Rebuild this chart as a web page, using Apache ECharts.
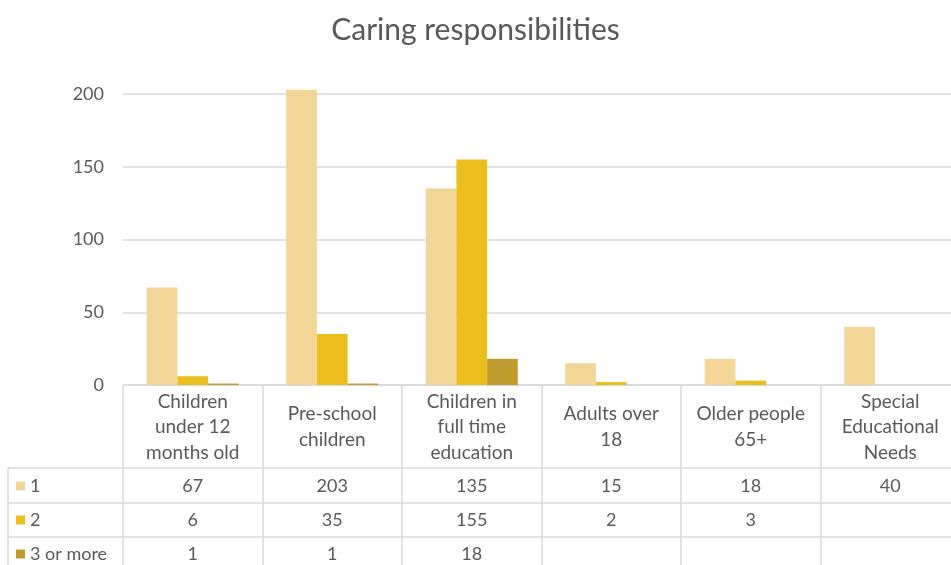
<!DOCTYPE html>
<html>
<head>
<meta charset="utf-8">
<script src="https://cdn.jsdelivr.net/npm/echarts@6/dist/echarts.min.js"></script>
<style>
  html, body { margin: 0; padding: 0; background: #ffffff; }
  #chart { width: 951px; height: 565px; }
</style>
</head>
<body>
<div id="chart"></div>
<script>
// Categories of caring responsibility (header row of the data table)
const categories = [
  'Children\nunder 12\nmonths old',
  'Pre-school\nchildren',
  'Children in\nfull time\neducation',
  'Adults over\n18',
  'Older people\n65+',
  'Special\nEducational\nNeeds'
];

// Number of people caring for 1, 2, or 3+ dependants in each category
const seriesNames = ['1', '2', '3 or more'];
const ones = [67, 203, 135, 15, 18, 40];
const twos = [6, 35, 155, 2, 3, null];
const threePlus = [1, 1, 18, null, null, null];

// Value axis ticks
const yTicks = { min: 0, max: 200, step: 50 };

const colors = ['#F2D698', '#EBBE1E', '#C09B2D'];
const rows = [ones, twos, threePlus];

const textColor = '#595959';
const lineColor = '#d9d9d9';
const font = 'Lato';

const chart = echarts.init(document.getElementById('chart'), null, { renderer: 'canvas' });

// Table geometry (pixels)
const axisY = 385;
const rowLines = [468, 503, 537];
const rowCenters = [486, 520, 554];
const tableLeft = 8;

// One hidden-line category axis per table row, whose labels are the row values
const valueAxes = rows.map((vals, r) => ({
  type: 'category',
  data: categories,
  position: 'bottom',
  offset: rowCenters[r] - axisY,
  axisLine: { show: false },
  axisTick: { show: false },
  splitLine: { show: false },
  axisLabel: {
    interval: 0,
    margin: 0,
    verticalAlign: 'middle',
    color: textColor,
    fontFamily: font,
    fontSize: 18,
    formatter: (v, i) => (vals[i] == null ? '' : String(vals[i]))
  }
}));

const graphics = [];
rowLines.forEach(y => {
  graphics.push({
    type: 'line',
    shape: { x1: tableLeft, y1: y, x2: 951, y2: y },
    style: { stroke: lineColor, lineWidth: 1.5 },
    silent: true
  });
});
graphics.push({
  type: 'line',
  shape: { x1: tableLeft, y1: rowLines[0], x2: tableLeft, y2: 565 },
  style: { stroke: lineColor, lineWidth: 1.5 },
  silent: true
});

const option = {
  animation: false,
  backgroundColor: '#ffffff',
  color: colors,
  title: {
    text: 'Caring responsibilities',
    left: 'center',
    top: 10,
    textStyle: { color: textColor, fontFamily: font, fontSize: 30, fontWeight: 'normal' }
  },
  legend: {
    data: seriesNames,
    orient: 'vertical',
    left: 16,
    top: 476,
    padding: 0,
    itemWidth: 9,
    itemHeight: 9,
    itemGap: 14,
    icon: 'rect',
    selectedMode: false,
    textStyle: { color: textColor, fontFamily: font, fontSize: 18, lineHeight: 20 }
  },
  // the plot runs slightly past the right edge of the canvas
  grid: {
    left: 123, width: 837, top: 94, bottom: 565 - axisY,
    containLabel: false, outerBoundsMode: 'none'
  },
  xAxis: [{
    type: 'category',
    data: categories,
    position: 'bottom',
    axisLine: { show: true, lineStyle: { color: lineColor, width: 1.5 } },
    axisTick: { show: true, interval: 0, length: 565 - axisY, lineStyle: { color: lineColor, width: 1.5 } },
    axisLabel: {
      interval: 0,
      margin: 42,
      verticalAlign: 'middle',
      color: textColor,
      fontFamily: font,
      fontSize: 19,
      lineHeight: 25.5
    }
  }].concat(valueAxes),
  yAxis: {
    type: 'value',
    min: yTicks.min,
    max: yTicks.max,
    interval: yTicks.step,
    axisLine: { show: false },
    axisTick: { show: false },
    splitLine: { lineStyle: { color: lineColor, width: 1.5 } },
    axisLabel: { color: textColor, fontFamily: font, fontSize: 18, margin: 19 }
  },
  series: rows.map((vals, i) => ({
    name: seriesNames[i],
    type: 'bar',
    data: vals,
    xAxisIndex: 0,
    barGap: '0%',
    barCategoryGap: '34%',
    clip: false,
    itemStyle: { color: colors[i] }
  })),
  graphic: graphics
};

chart.setOption(option);
</script>
</body>
</html>
